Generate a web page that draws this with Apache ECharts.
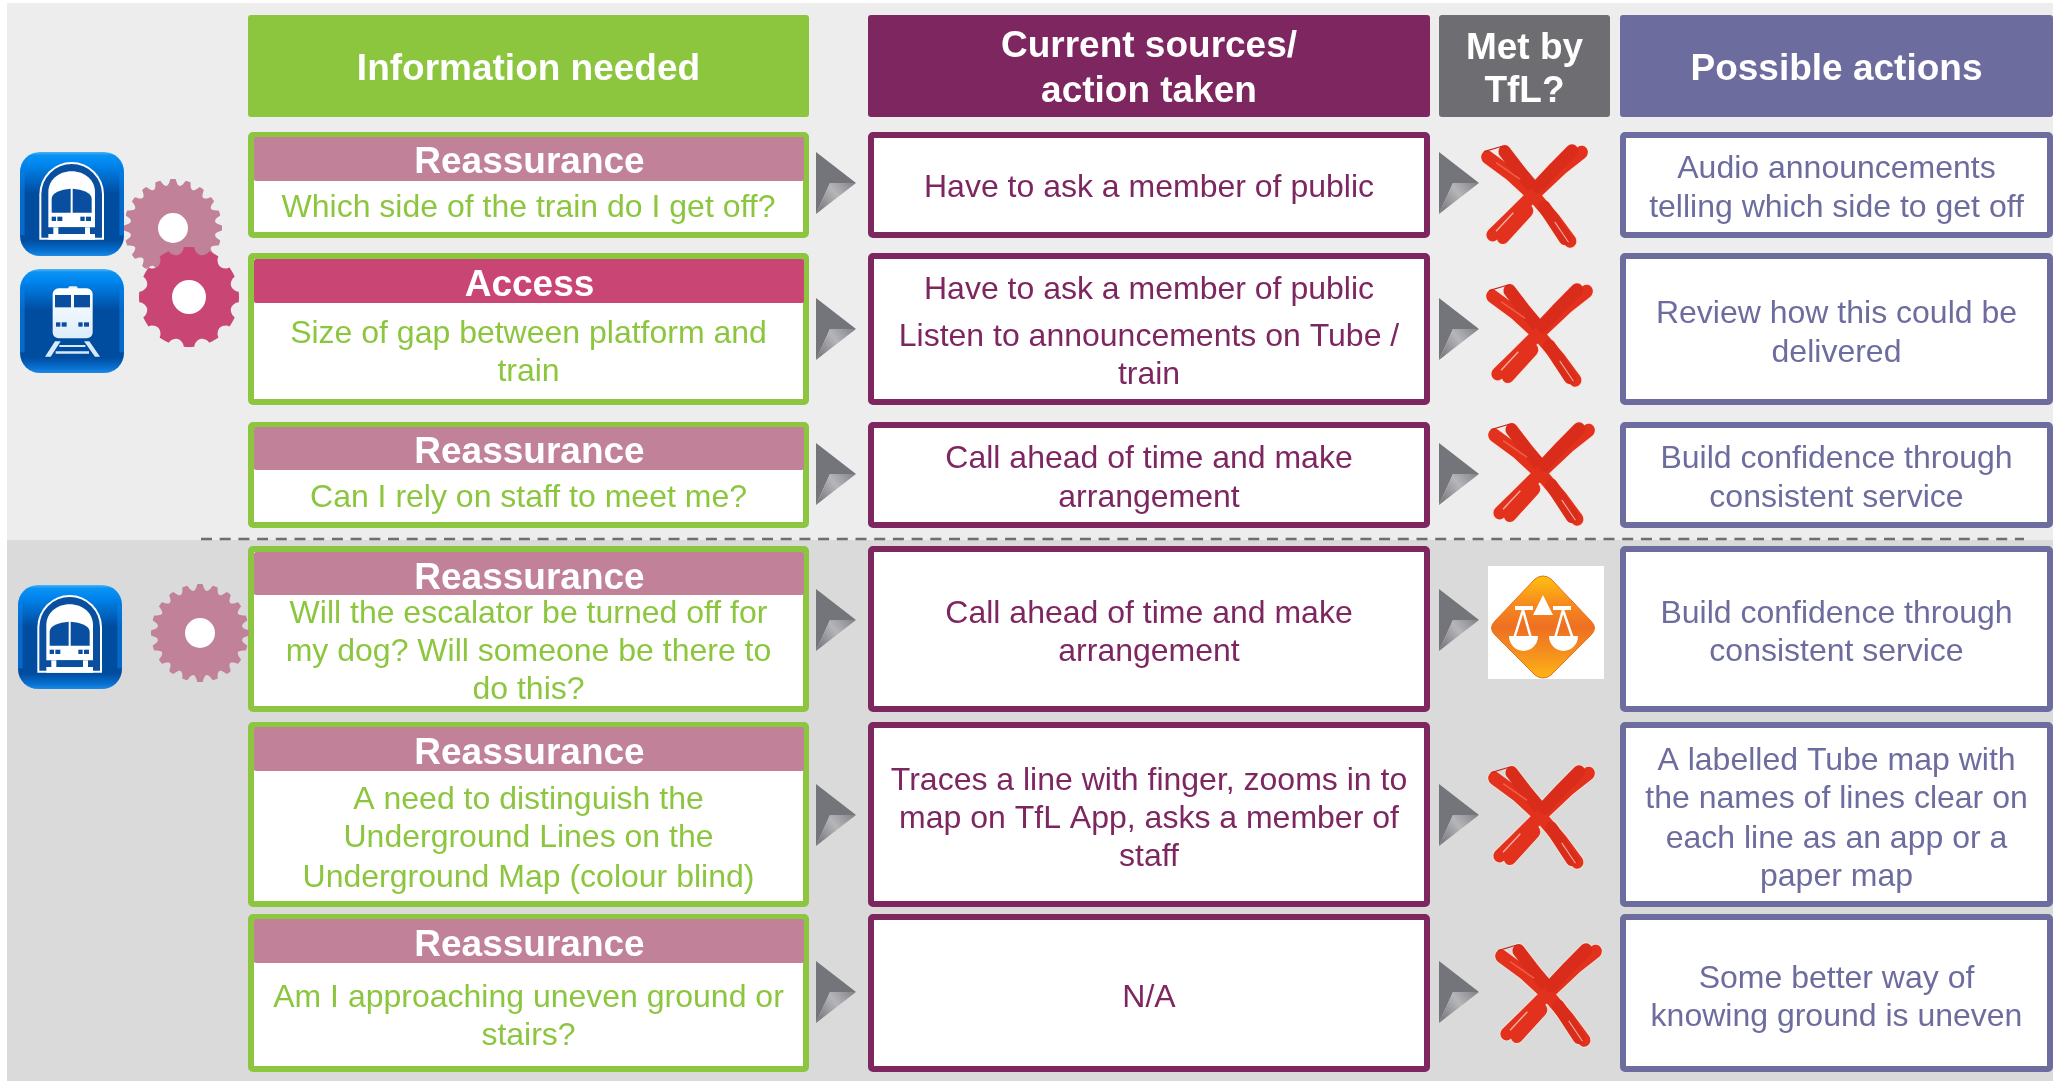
<!DOCTYPE html>
<html>
<head>
<meta charset="utf-8">
<title>Information needed</title>
<style>
  html, body { margin: 0; height: 100%; background: #fff; }
  #chart { width: 2053px; height: 1081px; }
</style>
<script src="https://cdn.jsdelivr.net/npm/echarts@6/dist/echarts.min.js"></script>
</head>
<body>
<div id="chart"></div>
<script>
// content
const headers = [['Information needed'], ['Current sources/', 'action taken'], ['Met by', 'TfL?'], ['Possible actions']]
const needTypes = ['Reassurance', 'Access', 'Reassurance', 'Reassurance', 'Reassurance', 'Reassurance']
const needs = [
  ['Which side of the train do I get off?'],
  ['Size of gap between platform and', 'train'],
  ['Can I rely on staff to meet me?'],
  ['Will the escalator be turned off for', 'my dog? Will someone be there to', 'do this?'],
  ['A need to distinguish the', 'Underground Lines on the', 'Underground Map (colour blind)'],
  ['Am I approaching uneven ground or', 'stairs?']
]
const sources = [
  ['Have to ask a member of public'],
  ['Have to ask a member of public', 'Listen to announcements on Tube /', 'train'],
  ['Call ahead of time and make', 'arrangement'],
  ['Call ahead of time and make', 'arrangement'],
  ['Traces a line with finger, zooms in to', 'map on TfL App, asks a member of', 'staff'],
  ['N/A']
]
const metByTfl = ['no', 'no', 'no', 'partly', 'no', 'no']
const actions = [
  ['Audio announcements', 'telling which side to get off'],
  ['Review how this could be', 'delivered'],
  ['Build confidence through', 'consistent service'],
  ['Build confidence through', 'consistent service'],
  ['A labelled Tube map with', 'the names of lines clear on', 'each line as an app or a', 'paper map'],
  ['Some better way of', 'knowing ground is uneven']
]

// layout, in page pixels
const W = 2053
const H = 1081
const colEdges = [[248, 809], [868, 1430], [1439, 1610], [1620, 2053]]
const headerTop = 15
const headerBottom = 117
const rowEdges = [[132, 238], [253, 405], [422, 528], [546, 712], [722, 907], [914, 1072]]
const titleBars = [[137, 181], [259, 303], [427, 470], [552, 595], [727, 771], [919, 963]]
const titleY = [163, 286, 453, 579, 754, 946]
const needY = [[208], [334, 372], [498], [614, 652, 690], [800, 838, 878], [998, 1036]]
const sourceY = [[188], [290, 337, 375], [459, 498], [614, 652], [781, 819, 857], [998]]
const actionY = [[169, 208], [314, 353], [459, 498], [614, 652], [761, 799, 839, 877], [979, 1017]]
const headerY = [[70], [47, 92], [49, 92], [70]]
const arrowY = [183, 329, 474, 620, 815, 992]
const arrowX = [816, 1439]
const markCentres = [[1534, 196], [1539, 335], [1541, 474], null, [1541, 817], [1548, 995]]
const trainIcons = [['tunnel', 20, 152], ['surface', 20, 269], ['tunnel', 18, 585]]
const gears = [[173, 228, 49, 15, 20, '#c08199'], [189, 297, 50, 17, 12, '#c94674'], [200, 633, 49, 15, 20, '#c08199']]

const GREEN = '#8cc63f'
const PURPLE = '#7d2660'
const GREY = '#6e6e72'
const INDIGO = '#6d6c9e'
const titleColors = { Reassurance: '#c08199', Access: '#c94674' }
const FONT = '"Liberation Sans", Arial, sans-serif'

const LG = echarts.graphic.LinearGradient

// rectangles
const rects = [
  { b: [7, 3, W, 540], fill: '#ededed' },
  { b: [7, 540, W, H], fill: '#dadada' }
]
const headerColors = [GREEN, PURPLE, GREY, INDIGO]
colEdges.forEach((c, i) => {
  rects.push({ b: [c[0], headerTop, c[1], headerBottom], fill: headerColors[i], r: 3 })
})
rowEdges.forEach((r, i) => {
  ;[[0, GREEN], [1, PURPLE], [3, INDIGO]].forEach(([c, color]) => {
    rects.push({ b: [colEdges[c][0] + 3, r[0] + 3, colEdges[c][1] - 3, r[1] - 3], fill: '#fff', stroke: color, lw: 6, r: 2 })
  })
  rects.push({ b: [colEdges[0][0] + 6, titleBars[i][0], colEdges[0][1] - 5, titleBars[i][1]], fill: titleColors[needTypes[i]], r: 2 })
})

// text lines
const labels = []
const addLines = (lines, ys, x, color, size, weight) => {
  lines.forEach((t, i) => labels.push({ x, y: ys[i], t, color, size, weight }))
}
const colCentre = (c) => (colEdges[c][0] + colEdges[c][1]) / 2
headers.forEach((h, i) => addLines(h, headerY[i], colCentre(i), '#fff', 37, 'bold'))
needs.forEach((n, i) => {
  addLines([needTypes[i]], [titleY[i]], colCentre(0) + 1, '#fff', 37, 'bold')
  addLines(n, needY[i], colCentre(0), GREEN, 32, 'normal')
  addLines(sources[i], sourceY[i], colCentre(1), PURPLE, 32, 'normal')
  addLines(actions[i], actionY[i], colCentre(3), INDIGO, 32, 'normal')
})

// icon drawings, local coordinates
const arrowChildren = () => [
  { type: 'polygon', shape: { points: [[0, 0], [40, 31], [14, 31], [0, 62]] }, style: { fill: '#74747b' } },
  { type: 'polygon', shape: { points: [[14, 31], [40, 31], [0, 62]] }, style: { fill: new LG(1, 0, 0, 1, [{ offset: 0, color: '#808086' }, { offset: 0.45, color: '#b6b6ba' }, { offset: 1, color: '#6e6e74' }]) } }
]

const xStrokes = [
  [[-135, -105], [-70, -60], [0, 0], [60, 65], [105, 122]],
  [[-85, -120], [-40, -65], [5, -15]],
  [[138, -118], [80, -75], [0, -5], [-70, 60], [-120, 105]],
  [[110, -122], [60, -75], [10, -25]],
  [[-90, 112], [-20, 40]],
  [[30, 30], [90, 115]]
]
const markChildren = () => {
  const out = []
  xStrokes.forEach((pts) => {
    out.push({ type: 'polyline', shape: { points: pts }, style: { fill: null, stroke: 'rgba(255,225,215,0.6)', lineWidth: 42, lineCap: 'round', lineJoin: 'round' } })
  })
  xStrokes.forEach((pts, i) => {
    out.push({ type: 'polyline', shape: { points: pts }, style: { fill: null, stroke: i % 2 ? '#d92c1a' : '#e2311c', lineWidth: 36, lineCap: 'round', lineJoin: 'round' } })
  })
  out.push({ type: 'polyline', shape: { points: [[-110, -90], [-40, -45]] }, style: { fill: null, stroke: '#f0604a', lineWidth: 4 } })
  out.push({ type: 'polyline', shape: { points: [[-60, 45], [-110, 95]] }, style: { fill: null, stroke: '#f4b0a0', lineWidth: 4 } })
  out.push({ type: 'polyline', shape: { points: [[60, 70], [100, 125]] }, style: { fill: null, stroke: '#f4b0a0', lineWidth: 3 } })
  out.push({ type: 'polyline', shape: { points: [[-145, -120], [-90, -135]] }, style: { fill: null, stroke: '#c0281a', lineWidth: 3 } })
  return out
}

const iconBase = () => [
  { type: 'rect', shape: { x: 0, y: 0, width: 312, height: 312, r: 60 }, style: { fill: new LG(0, 0, 0, 1, [
    { offset: 0, color: '#4fb4f5' }, { offset: 0.03, color: '#0a93f5' }, { offset: 0.12, color: '#0085ee' },
    { offset: 0.4, color: '#004c9f' }, { offset: 0.85, color: '#004c9f' }, { offset: 0.95, color: '#0770cf' }, { offset: 1, color: '#1c8ae6' }
  ]) } },
  { type: 'rect', shape: { x: 0, y: 60, width: 14, height: 190 }, style: { fill: 'rgba(10,130,235,0.55)' } },
  { type: 'rect', shape: { x: 298, y: 60, width: 14, height: 190 }, style: { fill: 'rgba(10,130,235,0.55)' } }
]

const tunnelTrain = () => iconBase().concat([
  { type: 'path', shape: { pathData: 'M58 263 L58 127 A97 97 0 0 1 252 127 L252 263 Z' }, style: { fill: '#fff' } },
  { type: 'path', shape: { pathData: 'M64 257 L64 127 A91 91 0 0 1 246 127 L246 257 Z' }, style: { fill: '#0a4f9f' } },
  { type: 'path', shape: { pathData: 'M85 226 L85 120 C85 85 115 58 155 58 C195 58 225 85 225 120 L225 226 Z' }, style: { fill: '#fff' } },
  { type: 'path', shape: { pathData: 'M95 182 L95 140 C95 122 122 112 152 110 L152 182 Z' }, style: { fill: '#0a4f9f' } },
  { type: 'path', shape: { pathData: 'M215 182 L215 140 C215 122 188 112 158 110 L158 182 Z' }, style: { fill: '#0a4f9f' } },
  { type: 'rect', shape: { x: 95, y: 194, width: 13, height: 13 }, style: { fill: '#0a4f9f' } },
  { type: 'rect', shape: { x: 112, y: 194, width: 15, height: 13 }, style: { fill: '#0a4f9f' } },
  { type: 'rect', shape: { x: 181, y: 194, width: 13, height: 13 }, style: { fill: '#0a4f9f' } },
  { type: 'rect', shape: { x: 198, y: 194, width: 15, height: 13 }, style: { fill: '#0a4f9f' } },
  { type: 'rect', shape: { x: 115, y: 226, width: 80, height: 18 }, style: { fill: '#0a4f9f' } },
  { type: 'rect', shape: { x: 85, y: 246, width: 140, height: 17 }, style: { fill: '#fff' } },
  { type: 'rect', shape: { x: 100, y: 226, width: 15, height: 22 }, style: { fill: '#fff' } },
  { type: 'rect', shape: { x: 195, y: 226, width: 15, height: 22 }, style: { fill: '#fff' } }
])

const surfaceTrain = () => iconBase().concat([
  { type: 'rect', shape: { x: 145, y: 52, width: 28, height: 18, r: 5 }, style: { fill: '#e6f2fc' } },
  { type: 'rect', shape: { x: 98, y: 58, width: 120, height: 150, r: 18 }, style: { fill: new LG(0, 0, 0, 1, [{ offset: 0, color: '#ffffff' }, { offset: 1, color: '#dcecfb' }]) } },
  { type: 'rect', shape: { x: 105, y: 78, width: 48, height: 37 }, style: { fill: '#0a4f9f' } },
  { type: 'rect', shape: { x: 162, y: 78, width: 48, height: 37 }, style: { fill: '#0a4f9f' } },
  { type: 'rect', shape: { x: 108, y: 160, width: 13, height: 13 }, style: { fill: '#0a4f9f' } },
  { type: 'rect', shape: { x: 125, y: 160, width: 15, height: 13 }, style: { fill: '#0a4f9f' } },
  { type: 'rect', shape: { x: 175, y: 160, width: 13, height: 13 }, style: { fill: '#0a4f9f' } },
  { type: 'rect', shape: { x: 192, y: 160, width: 15, height: 13 }, style: { fill: '#0a4f9f' } },
  { type: 'polygon', shape: { points: [[75, 263], [105, 217], [122, 217], [92, 263]] }, style: { fill: '#d8eafa' } },
  { type: 'polygon', shape: { points: [[240, 263], [208, 217], [192, 217], [225, 263]] }, style: { fill: '#d8eafa' } },
  { type: 'rect', shape: { x: 118, y: 228, width: 78, height: 6 }, style: { fill: '#d8eafa' } },
  { type: 'rect', shape: { x: 107, y: 247, width: 100, height: 7 }, style: { fill: '#d8eafa' } }
])

const scaleChildren = () => {
  const white = { fill: '#fff' }
  const arm = { fill: null, stroke: '#fff', lineWidth: 2.5 }
  return [
    { type: 'rect', shape: { x: 0, y: 0, width: 116, height: 113 }, style: white },
    { type: 'path', shape: { pathData: 'M47 13 Q55 7 63 13 L103 55 Q110 62 103 69 L63 109 Q55 115 47 109 L7 69 Q0 62 7 55 Z' }, style: { fill: new LG(0, 0, 0, 1, [
      { offset: 0, color: '#ffc20e' }, { offset: 0.28, color: '#f68a1e' }, { offset: 0.5, color: '#ee6f22' }, { offset: 0.75, color: '#f58f1e' }, { offset: 1, color: '#ffb414' }
    ]), stroke: '#e8701e', lineWidth: 1 } },
    { type: 'polygon', shape: { points: [[55, 29], [65, 49], [45, 49]] }, style: white },
    { type: 'rect', shape: { x: 27, y: 40, width: 18, height: 4 }, style: white },
    { type: 'rect', shape: { x: 65, y: 40, width: 18, height: 4 }, style: white },
    { type: 'polyline', shape: { points: [[25, 76], [35, 44], [44, 76]] }, style: arm },
    { type: 'polyline', shape: { points: [[66, 76], [75, 44], [86, 76]] }, style: arm },
    { type: 'path', shape: { pathData: 'M21 70 L50 70 A14.5 15 0 0 1 21 70 Z' }, style: white },
    { type: 'path', shape: { pathData: 'M61 70 L90 70 A14.5 15 0 0 1 61 70 Z' }, style: white }
  ]
}

const gearPoints = (R, teeth) => {
  const pts = []
  for (let k = 0; k < 360; k++) {
    const a = (k / 360) * Math.PI * 2
    const s = Math.cos(a * teeth)
    const notch = s > 0.3 ? 0 : R * 0.13 * Math.sqrt((0.3 - s) / 1.3)
    pts.push([(R - notch) * Math.cos(a), (R - notch) * Math.sin(a)])
  }
  return pts
}

const option = {
  animation: false,
  backgroundColor: '#fff',
  grid: { left: 0, right: 0, top: 0, bottom: 0 },
  xAxis: { type: 'value', min: 0, max: W, show: false },
  yAxis: { type: 'value', min: 0, max: H, inverse: true, show: false },
  series: [
    {
      type: 'custom',
      name: 'boxes',
      silent: true,
      clip: false,
      data: rects.map((r) => r.b),
      renderItem: (params, api) => {
        const r = rects[params.dataIndex]
        const a = api.coord([api.value(0), api.value(1)])
        const b = api.coord([api.value(2), api.value(3)])
        return {
          type: 'rect',
          shape: { x: a[0], y: a[1], width: b[0] - a[0], height: b[1] - a[1], r: r.r || 0 },
          style: { fill: r.fill, stroke: r.stroke || null, lineWidth: r.lw || 0 }
        }
      }
    },
    {
      type: 'custom',
      name: 'gears',
      silent: true,
      clip: false,
      data: gears.map((g) => [g[0], g[1]]),
      renderItem: (params, api) => {
        const g = gears[params.dataIndex]
        const c = api.coord([api.value(0), api.value(1)])
        return {
          type: 'group',
          x: c[0],
          y: c[1],
          children: [
            { type: 'polygon', shape: { points: gearPoints(g[2], g[4]) }, style: { fill: g[5] } },
            { type: 'circle', shape: { cx: 0, cy: 0, r: g[3] }, style: { fill: '#fff' } }
          ]
        }
      }
    },
    {
      type: 'custom',
      name: 'trains',
      silent: true,
      clip: false,
      data: trainIcons.map((t) => [t[1], t[2]]),
      renderItem: (params, api) => {
        const t = trainIcons[params.dataIndex]
        const c = api.coord([api.value(0), api.value(1)])
        return {
          type: 'group',
          x: c[0],
          y: c[1],
          scaleX: 1 / 3,
          scaleY: 1 / 3,
          children: t[0] === 'tunnel' ? tunnelTrain() : surfaceTrain()
        }
      }
    },
    {
      type: 'custom',
      name: 'arrows',
      silent: true,
      clip: false,
      data: arrowY.flatMap((y) => arrowX.map((x) => [x, y])),
      renderItem: (params, api) => {
        const c = api.coord([api.value(0), api.value(1)])
        return { type: 'group', x: c[0], y: c[1] - 31, children: arrowChildren() }
      }
    },
    {
      type: 'custom',
      name: 'no',
      silent: true,
      clip: false,
      data: markCentres.filter((c, i) => metByTfl[i] === 'no'),
      renderItem: (params, api) => {
        const c = api.coord([api.value(0), api.value(1)])
        return { type: 'group', x: c[0], y: c[1], scaleX: 0.345, scaleY: 0.37, children: markChildren() }
      }
    },
    {
      type: 'custom',
      name: 'partly',
      silent: true,
      clip: false,
      data: [[1488, 566]],
      renderItem: (params, api) => {
        const c = api.coord([api.value(0), api.value(1)])
        return { type: 'group', x: c[0], y: c[1], children: scaleChildren() }
      }
    },
    {
      type: 'custom',
      name: 'divider',
      silent: true,
      clip: false,
      data: [[201, 539, 2024, 539]],
      renderItem: (params, api) => {
        const a = api.coord([api.value(0), api.value(1)])
        const b = api.coord([api.value(2), api.value(3)])
        return {
          type: 'line',
          shape: { x1: a[0], y1: a[1], x2: b[0], y2: b[1] },
          style: { stroke: '#6e6e72', lineWidth: 2.5, lineDash: [11, 7.7] }
        }
      }
    },
    {
      type: 'custom',
      name: 'labels',
      silent: true,
      clip: false,
      data: labels.map((l) => [l.x, l.y]),
      renderItem: (params, api) => {
        const l = labels[params.dataIndex]
        const c = api.coord([api.value(0), api.value(1)])
        return {
          type: 'text',
          x: c[0],
          y: c[1],
          style: {
            text: l.t,
            fill: l.color,
            font: `${l.weight} ${l.size}px ${FONT}`,
            align: 'center',
            verticalAlign: 'middle'
          }
        }
      }
    }
  ]
}

const chart = echarts.init(document.getElementById('chart'))
chart.setOption(option)
</script>
</body>
</html>
